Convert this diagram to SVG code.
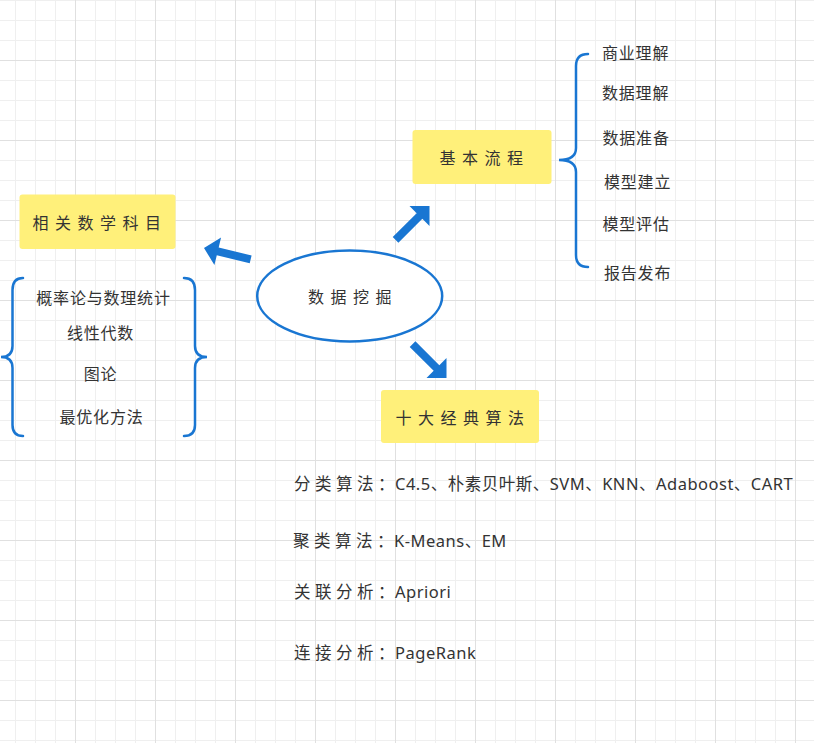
<svg xmlns="http://www.w3.org/2000/svg" width="814" height="743" viewBox="0 0 814 743">
<defs>
<pattern id="g1" patternUnits="userSpaceOnUse" x="15" y="20" width="20" height="20">
<path d="M0 0.5H20M0.5 0V20" stroke="#efefef" stroke-width="1" fill="none"/>
</pattern>
<pattern id="g2" patternUnits="userSpaceOnUse" x="75" y="60" width="80" height="80">
<path d="M0 0.5H80M0.5 0V80" stroke="#e0e0e0" stroke-width="1" fill="none"/>
</pattern>
<polygon id="arr" points="0,0 -14.14,-14.14 -14.14,-4 -48,-4 -48,4 -14.14,4 -14.14,14.14"/>
</defs>
<style>
text{font-family:"Noto Sans","Noto Sans CJK SC",sans-serif;fill:#333333}
.box{fill:#fff07a}
.bt{font-size:16px;letter-spacing:6.5px;text-anchor:middle}
.li{font-size:16px;letter-spacing:0.8px}
.lc{font-size:16px;letter-spacing:0.8px;text-anchor:middle}
.bl{font-size:16.5px;letter-spacing:0.5px}
.sp{letter-spacing:4.5px}
.brace{fill:none;stroke:#1976d2;stroke-width:2.5;stroke-linecap:round}
.ar{fill:#1976d2}
</style>
<rect width="814" height="743" fill="#ffffff"/>
<rect width="814" height="743" fill="url(#g1)"/>
<rect width="814" height="743" fill="url(#g2)"/>

<g id="connectors">
<use href="#arr" class="ar" transform="translate(429.5,206) rotate(-45)"/>
<use href="#arr" class="ar" transform="translate(446.5,378) rotate(45)"/>
<use href="#arr" class="ar" transform="translate(204,248) rotate(193.6)"/>
<path class="brace" d="M588 54Q576 54 576 66L576 148Q576 160 559 160Q576 160 576 172L576 255Q576 267 588 267"/>
<path class="brace" d="M23 278Q12.5 278 12.5 290L12.5 346Q12.5 357 1 357Q12.5 357 12.5 368L12.5 425Q12.5 436 23 436"/>
<path class="brace" d="M184 278Q195 278 195 290L195 346Q195 357 207 357Q195 357 195 368L195 425Q195 436 184 436"/>
</g>

<g id="node-center">
<ellipse cx="349.7" cy="296" rx="92.5" ry="45.5" fill="#ffffff" stroke="#1976d2" stroke-width="2.5"/>
<text class="bt" x="353" y="302.5">数据挖掘</text>
</g>

<g id="node-math">
<rect class="box" x="19.5" y="194.5" width="156" height="54.5" rx="3"/>
<text class="bt" x="100" y="229">相关数学科目</text>
</g>

<g id="node-flow">
<rect class="box" x="412.5" y="130" width="139" height="54" rx="3"/>
<text class="bt" x="484.5" y="163.5">基本流程</text>
</g>

<g id="node-algo">
<rect class="box" x="381" y="390" width="158" height="53" rx="3"/>
<text class="bt" x="463" y="424">十大经典算法</text>
</g>

<g id="list-math">
<text class="lc" x="103.5" y="303.5">概率论与数理统计</text>
<text class="lc" x="100.5" y="338.5">线性代数</text>
<text class="lc" x="100.5" y="379.5">图论</text>
<text class="lc" x="101.5" y="423">最优化方法</text>
</g>

<g id="list-flow">
<text class="li" x="602" y="58.5">商业理解</text>
<text class="li" x="602" y="98.5">数据理解</text>
<text class="li" x="602.5" y="144">数据准备</text>
<text class="li" x="604" y="188">模型建立</text>
<text class="li" x="602.5" y="229.5">模型评估</text>
<text class="li" x="604" y="278.5">报告发布</text>
</g>

<g id="list-algo">
<text class="bl" x="294" y="490"><tspan class="sp">分类算法</tspan>：C4.5、朴素贝叶斯、SVM、KNN、Adaboost、CART</text>
<text class="bl" x="293" y="546.5"><tspan class="sp">聚类算法</tspan>：K-Means、EM</text>
<text class="bl" x="294" y="597.5"><tspan class="sp">关联分析</tspan>：Apriori</text>
<text class="bl" x="294" y="659"><tspan class="sp">连接分析</tspan>：PageRank</text>
</g>
</svg>
